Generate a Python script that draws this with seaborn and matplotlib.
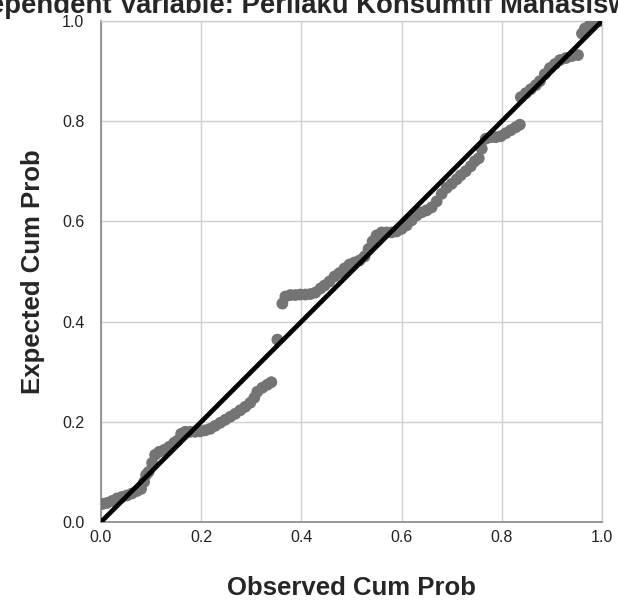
import matplotlib
matplotlib.use("Agg")
import matplotlib.pyplot as plt
import seaborn as sns
import pandas as pd

# Normal P-P plot of regression standardized residual
observed_cum_prob = [
    0.003, 0.012, 0.022, 0.032, 0.042, 0.052, 0.062, 0.072, 0.080,
    0.086, 0.090, 0.095,
    0.102, 0.108, 0.116, 0.126, 0.136, 0.146, 0.152, 0.160, 0.168, 0.178,
    0.188, 0.198, 0.208, 0.218, 0.228, 0.238, 0.248, 0.258, 0.268, 0.278,
    0.288, 0.298, 0.306, 0.312, 0.322, 0.332, 0.340,
    0.352,
    0.362, 0.368, 0.378, 0.388, 0.398, 0.408, 0.418, 0.428, 0.438, 0.446,
    0.456, 0.466, 0.476, 0.486, 0.496, 0.506, 0.516, 0.526, 0.534, 0.542,
    0.550, 0.560, 0.570, 0.580, 0.590, 0.600, 0.610, 0.620, 0.630, 0.640,
    0.650, 0.660, 0.670, 0.680, 0.690, 0.700, 0.710, 0.718, 0.728, 0.738,
    0.746, 0.754, 0.760, 0.768, 0.778, 0.788, 0.798, 0.808, 0.818, 0.828,
    0.836,
    0.838, 0.848, 0.858, 0.868, 0.876, 0.886, 0.896, 0.906, 0.916, 0.928,
    0.940, 0.952, 0.960, 0.966, 0.976, 0.986, 0.996,
]
expected_cum_prob = [
    0.036, 0.038, 0.042, 0.047, 0.050, 0.053, 0.057, 0.062, 0.066,
    0.080, 0.094, 0.100,
    0.118, 0.134, 0.140, 0.144, 0.150, 0.158, 0.162, 0.176, 0.180, 0.180,
    0.180, 0.181, 0.183, 0.186, 0.192, 0.198, 0.204, 0.210, 0.216, 0.223,
    0.230, 0.238, 0.248, 0.260, 0.268, 0.274, 0.279,
    0.364,
    0.436, 0.450, 0.453, 0.453, 0.454, 0.454, 0.455, 0.458, 0.466, 0.472,
    0.480, 0.490, 0.497, 0.506, 0.514, 0.518, 0.522, 0.530, 0.545, 0.560,
    0.572, 0.578, 0.578, 0.578, 0.580, 0.585, 0.592, 0.602, 0.612, 0.618,
    0.622, 0.628, 0.640, 0.655, 0.667, 0.675, 0.684, 0.692, 0.700, 0.710,
    0.720, 0.726, 0.745, 0.765, 0.768, 0.768, 0.770, 0.776, 0.782, 0.788,
    0.793,
    0.848, 0.856, 0.864, 0.872, 0.880, 0.894, 0.906, 0.914, 0.922, 0.926,
    0.930, 0.932, 0.975, 0.985, 0.992, 0.998, 1.000,
]
ref_line = [0.0, 1.0]
tick_values = [0.0, 0.2, 0.4, 0.6, 0.8, 1.0]
tick_labels = ["0.0", "0.2", "0.4", "0.6", "0.8", "1.0"]

title = "Dependent Variable: Perilaku Konsumtif Mahasiswa"

df = pd.DataFrame({"observed": observed_cum_prob, "expected": expected_cum_prob})

sns.set_theme(style="whitegrid")
plt.rcParams["font.family"] = ["Liberation Sans", "DejaVu Sans"]

fig = plt.figure(figsize=(6.18, 6.03), dpi=100)
ax = fig.add_axes([101 / 618, 1 - 522 / 603, 501 / 618, 501 / 603])

sns.scatterplot(data=df, x="observed", y="expected", ax=ax, color="#747474",
                s=72, edgecolor="none", zorder=3)
sns.lineplot(x=ref_line, y=ref_line, ax=ax, color="black", linewidth=3.4, zorder=4)

ax.set_xlim(0, 1)
ax.set_ylim(0, 1)
ax.set_xticks(tick_values)
ax.set_yticks(tick_values)
ax.set_xticklabels(tick_labels)
ax.set_yticklabels(tick_labels)
ax.tick_params(axis="both", length=0, labelsize=11.5, labelcolor="#222222")
ax.tick_params(axis="x", pad=6)
ax.tick_params(axis="y", pad=12)
ax.grid(True, color="#cfcfcf", linewidth=1.0)

for side in ["top", "right"]:
    ax.spines[side].set_color("#cccccc")
    ax.spines[side].set_linewidth(1.0)
for side in ["left", "bottom"]:
    ax.spines[side].set_color("#888888")
    ax.spines[side].set_linewidth(1.2)

ax.set_xlabel("Observed Cum Prob", fontsize=18.5, fontweight="bold", labelpad=22)
ax.set_ylabel("Expected Cum Prob", fontsize=18.5, fontweight="bold", labelpad=12)

fig.text(0.497, 1 - 13 / 603, title, ha="center", va="baseline",
         fontsize=19.8, fontweight="bold")

fig.savefig("out.png", dpi=100)
